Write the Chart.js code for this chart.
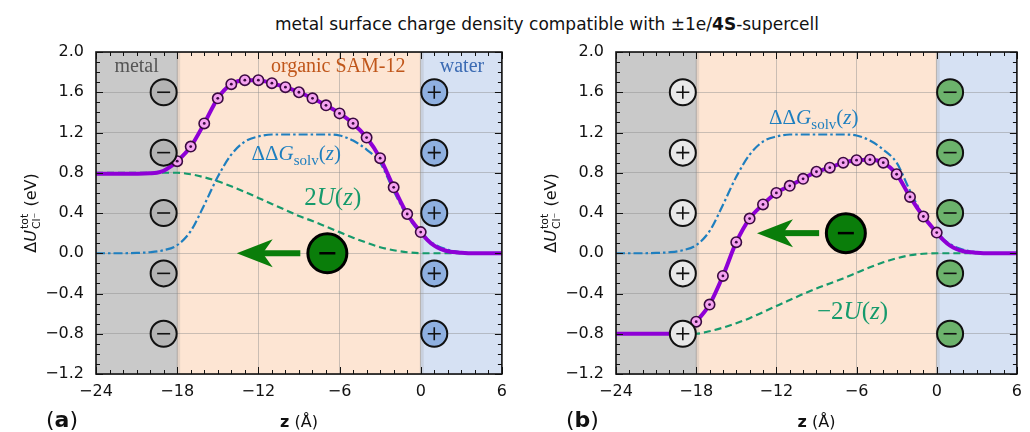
<!DOCTYPE html>
<html>
<head>
<meta charset="utf-8">
<script src="https://cdn.jsdelivr.net/npm/chart.js@4.4.0/dist/chart.umd.min.js"></script>
<style>
  body { margin: 0; background: #fff; width: 1030px; height: 432px; overflow: hidden; position: relative; font-family: "DejaVu Sans", sans-serif; }
  #title { position: absolute; left: 0; width: 1094px; top: 14px; line-height: 20px; text-align: center; font-size: 17px; color: #111; white-space: nowrap; }
  canvas { position: absolute; top: 0; }
</style>
</head>
<body>
<div id="title">metal surface charge density compatible with ±1e/<b>4S</b>-supercell</div>
<canvas id="chartA" width="515" height="432" style="left:0"></canvas>
<canvas id="chartB" width="515" height="432" style="left:515px"></canvas>
<script>
// ---- data ----
const zMarks = [-18, -17, -16, -15, -14, -13, -12, -11, -10, -9, -8, -7, -6, -5, -4, -3, -2, -1, 0];
const totalA = [0.915, 1.06, 1.29, 1.54, 1.68, 1.72, 1.72, 1.69, 1.65, 1.60, 1.54, 1.47, 1.39, 1.29, 1.15, 0.945, 0.655, 0.39, 0.21];
const totalB = [-0.68, -0.51, -0.225, 0.11, 0.345, 0.485, 0.60, 0.67, 0.74, 0.81, 0.85, 0.90, 0.925, 0.93, 0.90, 0.785, 0.56, 0.365, 0.205];

// full ΔU curves (through the markers plus the flat tails)
const zTotal = [-24, -22, -20, -19.5, -19, -18.5, -18, -17, -16, -15, -14, -13, -12, -11, -10, -9, -8, -7, -6, -5, -4, -3, -2, -1, 0, 0.5, 1, 1.5, 2, 3, 4, 6];
const curveA = [0.79, 0.79, 0.795, 0.80, 0.82, 0.86, 0.915, 1.06, 1.29, 1.54, 1.68, 1.72, 1.72, 1.69, 1.65, 1.60, 1.54, 1.47, 1.39, 1.29, 1.15, 0.945, 0.655, 0.39, 0.21, 0.13, 0.075, 0.04, 0.02, 0.005, 0, 0];
const curveB = [-0.80, -0.80, -0.80, -0.797, -0.79, -0.75, -0.68, -0.51, -0.225, 0.11, 0.345, 0.485, 0.60, 0.67, 0.74, 0.81, 0.85, 0.90, 0.925, 0.93, 0.90, 0.785, 0.56, 0.365, 0.205, 0.13, 0.075, 0.04, 0.02, 0.005, 0, 0];

// ΔΔG_solv(z), same in both panels
const zSolv = [-24, -22, -21, -20, -19, -18, -17, -16, -15, -14, -13, -12, -11, -10, -9, -8, -7, -6, -5, -4, -3, -2, -1, 0, 1, 2, 3, 4, 6];
const dGsolv = [0, 0, 0.003, 0.01, 0.03, 0.08, 0.22, 0.48, 0.76, 0.98, 1.11, 1.16, 1.18, 1.18, 1.18, 1.18, 1.18, 1.17, 1.12, 1.03, 0.90, 0.62, 0.37, 0.20, 0.09, 0.035, 0.01, 0, 0];

// image-charge term: 2U(z) in (a), -2U(z) in (b)
const zU = [-24, -20, -18, -17, -16, -15, -14, -13, -12, -11, -10, -9, -8, -7, -6, -5, -4, -3, -2, -1, 0, 6];
const twoU = [0.8, 0.8, 0.8, 0.785, 0.755, 0.715, 0.665, 0.61, 0.55, 0.49, 0.43, 0.37, 0.32, 0.265, 0.21, 0.155, 0.105, 0.06, 0.03, 0.01, 0, 0];
const minusTwoU = [-0.8, -0.8, -0.8, -0.775, -0.74, -0.695, -0.645, -0.585, -0.525, -0.465, -0.405, -0.35, -0.30, -0.25, -0.195, -0.14, -0.09, -0.05, -0.02, -0.005, 0, 0];

const xTicks = [-24, -18, -12, -6, 0, 6];
const yTicks = [-1.2, -0.8, -0.4, 0.0, 0.4, 0.8, 1.2, 1.6, 2.0];
const signRows = [1.6, 1.0, 0.4, -0.2, -0.8];

const pts = (xs, ys) => xs.map((x, i) => ({ x: x, y: ys[i] }));
const minus = v => String(v).replace('-', '\u2212');

// rich text helper: segments [{t, f, dy}]
function richWidth(ctx, segs) {
  let w = 0;
  segs.forEach(s => { ctx.font = s.f; w += ctx.measureText(s.t).width; });
  return w;
}
function drawRich(ctx, segs, x, y, color) {
  ctx.fillStyle = color;
  ctx.textBaseline = 'alphabetic';
  ctx.textAlign = 'left';
  let cx = x - richWidth(ctx, segs) / 2;
  segs.forEach(s => { ctx.font = s.f; ctx.fillText(s.t, cx, y + (s.dy || 0)); cx += ctx.measureText(s.t).width; });
}

function signCircle(ctx, px, py, fill, sign) {
  ctx.beginPath();
  ctx.arc(px, py, 13, 0, Math.PI * 2);
  ctx.fillStyle = fill;
  ctx.fill();
  ctx.lineWidth = 2;
  ctx.strokeStyle = '#111';
  ctx.stroke();
  ctx.beginPath();
  ctx.moveTo(px - 6.5, py); ctx.lineTo(px + 6.5, py);
  if (sign === '+') { ctx.moveTo(px, py - 6.5); ctx.lineTo(px, py + 6.5); }
  ctx.lineWidth = 1.6;
  ctx.stroke();
}

const decor = {
  id: 'decor',
  beforeDraw(chart, args, o) {
    const { ctx, chartArea: a, scales: { x } } = chart;
    ctx.save();
    const bands = [[-24, -18, '#c9c9c9'], [-18, 0, '#fde5d3'], [0, 6, '#d6e1f3']];
    bands.forEach(b => {
      const x0 = x.getPixelForValue(b[0]), x1 = x.getPixelForValue(b[1]);
      ctx.fillStyle = b[2];
      ctx.fillRect(x0, a.top, x1 - x0, a.bottom - a.top);
    });
    // soft interface edges
    [-18, 0].forEach(v => {
      const px = x.getPixelForValue(v);
      ctx.fillStyle = 'rgba(150,150,150,0.22)';
      ctx.fillRect(px - 1, a.top, 4, a.bottom - a.top);
    });
    ctx.restore();
  },
  afterDatasetsDraw(chart, args, o) {
    const { ctx, scales: { x, y } } = chart;
    ctx.save();
    signRows.forEach(v => {
      signCircle(ctx, x.getPixelForValue(-19), y.getPixelForValue(v), o.leftFill, o.leftSign);
      signCircle(ctx, x.getPixelForValue(1), y.getPixelForValue(v), o.rightFill, o.rightSign);
    });
    // Cl- ion and arrow
    const ix = x.getPixelForValue(o.ion[0]), iy = y.getPixelForValue(o.ion[1]);
    const tail = x.getPixelForValue(o.arrow[0]), head = x.getPixelForValue(o.arrow[1]);
    ctx.fillStyle = '#0a7d0a';
    ctx.fillRect(head + 20, iy - 3, tail - head - 20, 6);
    ctx.beginPath();
    ctx.moveTo(head, iy);
    ctx.lineTo(head + 36, iy - 14);
    ctx.lineTo(head + 26, iy);
    ctx.lineTo(head + 36, iy + 14);
    ctx.closePath();
    ctx.fill();
    ctx.beginPath();
    ctx.arc(ix, iy, 19.5, 0, Math.PI * 2);
    ctx.fillStyle = '#0a7d0a';
    ctx.fill();
    ctx.lineWidth = 3;
    ctx.strokeStyle = '#000';
    ctx.stroke();
    ctx.beginPath();
    ctx.moveTo(ix - 8, iy); ctx.lineTo(ix + 8, iy);
    ctx.lineWidth = 2.5;
    ctx.stroke();

    const serif = '"Liberation Serif", "Times New Roman", serif';
    // region labels (panel a only)
    if (o.regionLabels) {
      ctx.textAlign = 'center';
      ctx.textBaseline = 'alphabetic';
      ctx.font = '20px ' + serif;
      const ly = y.getPixelForValue(1.8);
      ctx.fillStyle = '#555555'; ctx.fillText('metal', x.getPixelForValue(-21), ly);
      ctx.fillStyle = '#c0561a'; ctx.fillText('organic SAM-12', x.getPixelForValue(-6.1), ly);
      ctx.fillStyle = '#3a6ab3'; ctx.fillText('water', x.getPixelForValue(3.05), ly);
    }

    // curve labels
    drawRich(ctx, [
      { t: '\u0394\u0394', f: '21px ' + serif },
      { t: 'G', f: 'italic 21px ' + serif },
      { t: 'solv', f: '15px ' + serif, dy: 5 },
      { t: '(', f: '21px ' + serif },
      { t: 'z', f: 'italic 21px ' + serif },
      { t: ')', f: '21px ' + serif }
    ], x.getPixelForValue(o.gLabel[0]), y.getPixelForValue(o.gLabel[1]) + 7, '#1f7fbf');
    drawRich(ctx, [
      { t: o.uPrefix, f: '25px ' + serif },
      { t: 'U', f: 'italic 25px ' + serif },
      { t: '(', f: '25px ' + serif },
      { t: 'z', f: 'italic 25px ' + serif },
      { t: ')', f: '25px ' + serif }
    ], x.getPixelForValue(o.uLabel[0]), y.getPixelForValue(o.uLabel[1]) + 9, '#169a6c');
    ctx.restore();
  },
  afterDraw(chart, args, o) {
    const { ctx, chartArea: a, scales: { x, y } } = chart;
    ctx.save();
    ctx.strokeStyle = '#111';
    ctx.lineWidth = 1;
    ctx.beginPath();
    for (let v = -24; v <= 6; v++) {
      const px = Math.round(x.getPixelForValue(v)) + 0.5;
      const len = v % 6 === 0 ? 7 : 4;
      ctx.moveTo(px, a.bottom); ctx.lineTo(px, a.bottom - len);
      ctx.moveTo(px, a.top); ctx.lineTo(px, a.top + len);
    }
    for (let k = -12; k <= 20; k++) {
      const py = Math.round(y.getPixelForValue(k / 10)) + 0.5;
      const len = k % 4 === 0 ? 7 : 4;
      ctx.moveTo(a.left, py); ctx.lineTo(a.left + len, py);
      ctx.moveTo(a.right, py); ctx.lineTo(a.right - len, py);
    }
    ctx.stroke();
    ctx.lineWidth = 1.6;
    ctx.strokeRect(a.left, a.top, a.right - a.left, a.bottom - a.top);

    // y axis title
    const sans = '"DejaVu Sans", sans-serif';
    ctx.translate(a.left - 60, (a.top + a.bottom) / 2);
    ctx.rotate(-Math.PI / 2);
    ctx.fillStyle = '#111';
    ctx.textBaseline = 'alphabetic';
    ctx.textAlign = 'left';
    ctx.font = '16px ' + sans;
    const w1 = ctx.measureText('\u0394').width;
    ctx.font = 'italic 16px ' + sans;
    const w2 = ctx.measureText('U').width;
    ctx.font = '11px ' + sans;
    const w3 = Math.max(ctx.measureText('tot').width, ctx.measureText('Cl\u207B').width);
    ctx.font = '16px ' + sans;
    const w4 = ctx.measureText(' (eV)').width;
    let cx = -(w1 + w2 + w3 + w4 + 2) / 2;
    ctx.font = '16px ' + sans; ctx.fillText('\u0394', cx, 0); cx += w1;
    ctx.font = 'italic 16px ' + sans; ctx.fillText('U', cx, 0); cx += w2 + 1;
    ctx.font = '11px ' + sans; ctx.fillText('tot', cx, -8); ctx.fillText('Cl\u207B', cx, 4); cx += w3 + 1;
    ctx.font = '16px ' + sans; ctx.fillText(' (eV)', cx, 0);
    ctx.setTransform(1, 0, 0, 1, 0, 0);

    // x axis title and panel tag
    const xm = (a.left + a.right) / 2;
    const ty = 427;
    ctx.font = 'bold 16px ' + sans;
    const zw = ctx.measureText('z').width;
    ctx.font = '16px ' + sans;
    const aw = ctx.measureText(' (\u00C5)').width;
    ctx.font = 'bold 16px ' + sans; ctx.fillText('z', xm - (zw + aw) / 2, ty);
    ctx.font = '16px ' + sans; ctx.fillText(' (\u00C5)', xm - (zw + aw) / 2 + zw, ty);
    ctx.font = '22px ' + sans;
    const pw = ctx.measureText('(').width;
    ctx.font = 'bold 22px ' + sans;
    const lw = ctx.measureText(o.tag).width;
    const tx = a.left - 50;
    ctx.font = '22px ' + sans; ctx.fillText('(', tx, 427);
    ctx.font = 'bold 22px ' + sans; ctx.fillText(o.tag, tx + pw, 427);
    ctx.font = '22px ' + sans; ctx.fillText(')', tx + pw + lw, 427);
    ctx.restore();
  }
};

function makeChart(id, total, curve, uVals, yWidth, padRight, deco) {
  return new Chart(document.getElementById(id), {
    type: 'scatter',
    data: {
      datasets: [
        { data: pts(zMarks, total), pointRadius: 1.4, pointBackgroundColor: '#3a0a40', pointBorderWidth: 0, showLine: false },
        { data: pts(zMarks, total), pointRadius: 5.2, pointBackgroundColor: '#f5a3f1', pointBorderColor: '#3a0a40', pointBorderWidth: 1.6, showLine: false },
        { data: pts(zTotal, curve), showLine: true, borderColor: '#8e00d6', borderWidth: 4, pointRadius: 0, cubicInterpolationMode: 'monotone' },
        { data: pts(zSolv, dGsolv), showLine: true, borderColor: '#1f7fbf', borderWidth: 2.2, borderDash: [9, 3, 2.5, 3], pointRadius: 0, cubicInterpolationMode: 'monotone' },
        { data: pts(zU, uVals), showLine: true, borderColor: '#169a6c', borderWidth: 2.2, borderDash: [7, 4], pointRadius: 0, cubicInterpolationMode: 'monotone' }
      ]
    },
    options: {
      responsive: false,
      animation: false,
      devicePixelRatio: 1,
      layout: { padding: { left: 0, right: padRight, top: 52, bottom: 0 } },
      plugins: { legend: { display: false }, tooltip: { enabled: false }, decor: deco },
      scales: {
        x: {
          type: 'linear', min: -24, max: 6,
          afterBuildTicks: ax => { ax.ticks = xTicks.map(v => ({ value: v })); },
          afterFit: ax => { ax.height = 58; },
          ticks: { callback: v => minus(v), color: '#111', font: { family: 'DejaVu Sans', size: 16 }, padding: 8, maxRotation: 0 },
          grid: { color: 'rgba(140,140,140,0.45)', lineWidth: 1, drawTicks: false },
          border: { display: false }
        },
        y: {
          type: 'linear', min: -1.2, max: 2.0,
          afterBuildTicks: ax => { ax.ticks = yTicks.map(v => ({ value: v })); },
          afterFit: ax => { ax.width = yWidth; },
          ticks: { callback: v => minus(v.toFixed(1)), color: '#111', font: { family: 'DejaVu Sans', size: 16 }, padding: 12 },
          grid: { color: 'rgba(140,140,140,0.45)', lineWidth: 1, drawTicks: false },
          border: { display: false }
        }
      }
    },
    plugins: [decor]
  });
}

makeChart('chartA', totalA, curveA, twoU, 96, 13, {
  leftFill: '#b4b4b4', leftSign: '-', rightFill: '#8fb0e0', rightSign: '+',
  ion: [-6.9, 0], arrow: [-8.9, -13.6], regionLabels: true,
  gLabel: [-9.2, 1.0], uLabel: [-6.5, 0.57], uPrefix: '2', tag: 'a'
});
makeChart('chartB', totalB, curveB, minusTwoU, 101, 8, {
  leftFill: '#e8e8e8', leftSign: '+', rightFill: '#6cb26c', rightSign: '-',
  ion: [-6.8, 0.2], arrow: [-8.8, -13.45], regionLabels: false,
  gLabel: [-9.2, 1.35], uLabel: [-6.3, -0.56], uPrefix: '\u22122', tag: 'b'
});
</script>
</body>
</html>
